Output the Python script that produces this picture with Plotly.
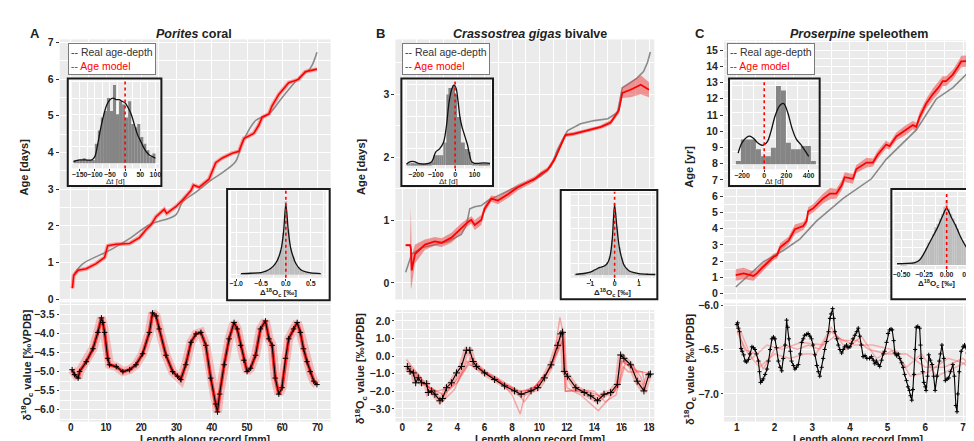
import plotly.graph_objects as go

W, H = 974, 441
FONT = "Liberation Sans, Arial, sans-serif"

# ---------------- Panel A (Porites coral) ----------------
A_real_x = [1.1, 3.5, 11.0, 17.1, 22.3, 29.8, 31.7, 35.5, 40.2, 43.0, 46.8, 48.6, 52.4, 56.2, 59.9, 64.6, 67.9, 69.8]
A_real_age = [0.70, 0.97, 1.33, 1.68, 2.03, 2.30, 2.65, 2.92, 3.27, 3.45, 3.76, 4.25, 4.87, 5.05, 5.49, 6.02, 6.29, 6.73]
A_model_x = [0.47, 0.85, 2.07, 4.4, 7.2, 9.6, 10.5, 12.9, 16.7, 18.1, 19.5, 21.4, 22.8, 24.2, 26.5, 27.2, 29.8, 31.7,
             34.1, 34.8, 36.4, 39.2, 41.1, 43.0, 45.8, 47.7, 49.1, 51.9, 53.3, 54.3, 56.2, 57.1, 59.0, 61.8, 64.6, 66.5, 69.8]
A_model_age = [0.30, 0.65, 0.79, 0.83, 0.97, 1.14, 1.46, 1.50, 1.52, 1.59, 1.68, 1.90, 2.03, 2.25, 2.45, 2.34, 2.52, 2.70,
               2.96, 3.11, 3.05, 3.27, 3.72, 3.85, 3.98, 4.03, 4.38, 4.52, 4.74, 4.96, 5.05, 5.27, 5.58, 5.90, 5.99, 6.20, 6.27]
A_d18_x = [0.4, 1.1, 2.1, 2.5, 4.4, 6.3, 7.7, 8.7, 9.1, 9.6, 10.5, 11.0, 12.9, 14.8, 16.7, 18.5, 20.4, 22.3, 23.2, 24.2,
           25.1, 27.0, 28.9, 30.3, 31.2, 32.6, 34.1, 35.5, 36.9, 38.3, 39.7, 41.1, 41.6, 42.2, 43.5, 44.9, 46.3, 47.2,
           48.2, 49.1, 50.0, 51.0, 52.4, 53.8, 55.2, 56.2, 57.1, 58.0, 59.0, 59.9, 60.9, 61.8, 63.2, 64.2, 65.1, 66.0,
           67.0, 67.9, 68.9, 69.8]
A_d18_val = [-4.95, -5.08, -5.17, -5.00, -4.74, -4.40, -3.97, -3.59, -3.71, -3.97, -4.65, -4.82, -4.87, -5.00, -4.95,
             -4.82, -4.53, -3.97, -3.46, -3.54, -3.88, -4.57, -5.00, -5.12, -5.21, -4.82, -4.23, -4.01, -3.97, -4.31,
             -5.17, -5.85, -6.06, -5.59, -4.82, -4.14, -3.71, -3.88, -4.31, -4.70, -5.00, -4.91, -4.57, -3.88, -3.67,
             -4.14, -4.31, -5.17, -5.59, -5.42, -4.65, -4.14, -3.88, -3.71, -3.97, -4.40, -4.74, -5.00, -5.25, -5.34]
A_hist_dt_x = [-165, -155, -145, -135, -125, -115, -105, -95, -85, -75, -65, -55, -45, -35, -25, -15, -5, 5, 15, 25,
               35, 45, 55, 65, 75, 85, 95]
A_hist_dt_n = [1, 1, 1, 1.5, 1, 1, 1, 6, 10, 14, 16, 20, 16, 24, 15, 19, 18, 14, 19, 12, 11, 12, 8, 6, 4, 2, 3]
A_dens_dt_x = [-170, -150, -130, -110, -100, -90, -80, -70, -60, -50, -40, -30, -20, -10, 0, 10, 20, 30, 40, 50, 60,
               70, 80, 90, 100]
A_dens_dt_y = [0.5, 1, 1, 1, 2, 6, 11, 15, 18, 19.5, 20, 19.5, 19.5, 19, 18.5, 17, 15, 12, 9, 7, 5, 3.5, 2.5, 2, 1.5]
A_hist_do_x = [-0.90, -0.85, -0.80, -0.75, -0.70, -0.65, -0.60, -0.55, -0.50, -0.45, -0.40, -0.35, -0.30, -0.25,
               -0.20, -0.15, -0.10, -0.05, 0.00, 0.05, 0.10, 0.15, 0.20, 0.25, 0.30, 0.35, 0.40, 0.45, 0.50, 0.55,
               0.60, 0.65, 0.70]
A_hist_do_n = [1, 1, 1, 1, 1, 1.5, 2, 2, 2.5, 3, 5, 6, 9, 12, 16, 25, 35, 60, 105, 65, 38, 26, 17, 11, 7, 5, 3, 3, 2,
               2, 1.5, 1, 1]
A_dens_do_x = [-0.9, -0.7, -0.5, -0.4, -0.3, -0.2, -0.15, -0.1, -0.05, 0.0, 0.05, 0.1, 0.15, 0.2, 0.3, 0.4, 0.5, 0.7]
A_dens_do_y = [1.5, 2, 3, 5, 9, 17, 24, 35, 58, 100, 62, 37, 25, 16, 7, 4, 2.5, 1.5]

# ---------------- Panel B (Crassostrea gigas) ----------------
B_real_x = [0.24, 0.68, 1.4, 2.37, 3.34, 4.3, 4.67, 4.92, 5.28, 5.76, 6.25, 6.73, 7.94, 9.15, 10.1, 10.85, 11.3, 11.8,
            12.06, 13.0, 14.0, 15.0, 15.7, 16.05, 16.4, 17.1, 17.6, 17.9, 18.1]
B_real_age = [0.17, 0.46, 0.56, 0.61, 0.66, 0.77, 0.92, 1.18, 1.21, 1.23, 1.31, 1.36, 1.49, 1.60, 1.70, 1.85, 2.11,
              2.32, 2.42, 2.53, 2.58, 2.61, 2.71, 3.10, 3.15, 3.25, 3.36, 3.51, 3.67]
B_model_x = [0.24, 0.56, 0.62, 0.68, 0.92, 1.65, 2.37, 2.86, 3.58, 4.30, 4.79, 5.03, 5.28, 5.76, 6.00, 6.49, 6.97,
             7.70, 8.43, 9.15, 9.64, 10.10, 10.60, 11.10, 11.60, 11.90, 12.50, 13.50, 14.50, 15.20, 15.80, 16.05,
             16.65, 17.40, 18.00]
B_model_age = [0.60, 0.60, 0.55, 0.20, 0.46, 0.61, 0.66, 0.64, 0.72, 0.87, 0.97, 1.00, 0.92, 1.00, 1.18, 1.34, 1.31,
               1.41, 1.52, 1.60, 1.65, 1.73, 1.80, 1.96, 2.22, 2.35, 2.37, 2.42, 2.48, 2.55, 2.74, 3.02, 3.07, 3.15,
               3.07]
B_model_halfwidth = [0.02, 0.02, 0.65, 0.25, 0.15, 0.08, 0.07, 0.07, 0.08, 0.08, 0.06, 0.06, 0.08, 0.08, 0.06, 0.05,
                     0.06, 0.06, 0.05, 0.04, 0.04, 0.04, 0.04, 0.04, 0.04, 0.03, 0.03, 0.03, 0.03, 0.04, 0.05, 0.08,
                     0.12, 0.15, 0.12]
B_d18_x = [0.36, 0.56, 0.8, 0.97, 1.16, 1.4, 1.77, 1.89, 2.13, 2.37, 2.74, 2.93, 3.22, 3.58, 3.95, 4.31, 4.67, 4.92,
           5.16, 5.4, 6.0, 6.73, 7.46, 8.18, 8.67, 9.39, 9.88, 10.36, 10.85, 11.33, 11.57, 11.69, 11.82, 12.06, 12.66,
           13.27, 13.75, 14.24, 14.72, 15.2, 15.69, 15.93, 16.17, 16.66, 17.14, 17.63, 17.99, 18.1]
B_d18_val = [-0.59, -0.87, -0.96, -1.52, -1.24, -1.52, -1.57, -2.07, -1.98, -2.17, -2.54, -2.41, -1.80, -1.52, -0.96,
             -0.59, 0.33, 0.33, -0.31, -0.59, -0.96, -1.33, -1.70, -1.98, -2.17, -1.98, -1.80, -1.24, -0.50, 0.61,
             1.26, 1.35, -0.87, -1.15, -1.80, -2.07, -2.26, -2.54, -2.17, -2.07, -1.61, 0.06, -0.13, -0.50, -1.43,
             -1.98, -1.06, -1.02]
B_ens1_x = [0.4, 1.0, 2.0, 3.0, 4.0, 4.8, 5.5, 6.5, 7.5, 8.5, 9.5, 10.5, 11.3, 11.7, 11.9, 13.5, 14.5, 15.5, 16.0, 17.0, 18.0]
B_ens1_v = [-0.6, -1.2, -1.8, -2.2, -1.5, -0.5, -0.6, -1.2, -1.6, -2.0, -1.9, -1.0, 0.2, 0.9, -2.0, -2.0, -2.3, -2.0, -0.3, -0.8, -1.0]
B_ens2_x = [0.4, 1.5, 2.5, 3.5, 4.5, 5.0, 6.0, 7.0, 8.0, 8.6, 9.0, 10.0, 11.0, 11.5, 11.8, 12.0, 13.0, 14.3, 15.0,
            15.9, 16.3, 16.8, 17.4, 17.8]
B_ens2_v = [-0.4, -1.6, -2.0, -1.8, -0.8, -0.1, -0.9, -1.3, -2.2, -3.3, -2.0, -1.6, -0.4, 2.2, 1.0, -1.8, -2.2, -3.1,
            -2.5, -1.5, -0.3, -0.5, -1.2, -2.1]
B_ens3_x = [0.3, 1.2, 2.2, 2.9, 3.8, 4.7, 5.3, 6.2, 7.2, 8.2, 8.9, 9.8, 10.8, 11.4, 11.7, 11.9, 12.8, 14.0, 14.8, 15.6,
            16.1, 16.5, 17.5, 17.7]
B_ens3_v = [-0.2, -1.1, -2.1, -2.6, -1.9, -0.3, -0.7, -1.0, -1.5, -1.9, -2.6, -1.6, -0.7, 0.6, 1.6, -2.0, -1.9, -2.0,
            -2.6, -2.2, -0.6, -0.9, -0.9, -1.6]
B_hist_dt_x = [-245, -235, -225, -215, -205, -195, -185, -175, -165, -155, -145, -135, -125, -115, -105, -95, -85, -75,
               -65, -55, -45, -35, -25, -15, -5, 5, 15, 25, 35, 45, 55, 65, 75, 85, 95, 105, 115, 125, 135, 145, 155, 165, 175]
B_hist_dt_n = [0.2, 0.3, 0.5, 0.5, 0.4, 0.3, 0.2, 0.2, 0.2, 0.2, 0.3, 0.4, 0.6, 1, 3, 3, 3, 3, 3, 7, 7, 22, 24, 24, 25,
               22, 15, 15, 7, 7, 5, 5, 4, 1, 0.5, 0.3, 0.3, 0.3, 0.3, 0.3, 0.3, 0.3, 0.3]
B_dens_dt_x = [-250, -230, -210, -190, -150, -120, -100, -80, -60, -45, -30, -15, -5, 5, 15, 25, 35, 45, 55, 65, 75,
               85, 100, 150, 180]
B_dens_dt_y = [0.3, 1, 1, 0.5, 0.3, 1, 4, 5, 7, 12, 20, 24, 25, 24, 20, 15, 12, 10, 8, 6, 3, 1, 0.5, 0.6, 0.5]
B_hist_do_x = [-1.6, -1.5, -1.4, -1.3, -1.2, -1.1, -1.0, -0.9, -0.8, -0.7, -0.6, -0.5, -0.4, -0.3, -0.2, -0.1, 0.0, 0.1,
               0.2, 0.3, 0.4, 0.5, 0.6, 0.7, 0.8, 0.9, 1.0, 1.1, 1.2, 1.3, 1.4, 1.5, 1.6]
B_hist_do_n = [0.5, 0.8, 1, 1.2, 1.5, 2, 2.5, 3.5, 5, 6, 7, 7.5, 9, 11, 16, 30, 62, 42, 24, 15, 9, 6, 4, 3, 2.5, 2, 1.5,
               1.2, 1, 1, 0.8, 0.6, 0.5]
B_dens_do_x = [-1.6, -1.2, -1.0, -0.8, -0.6, -0.4, -0.3, -0.2, -0.1, 0.0, 0.1, 0.2, 0.3, 0.4, 0.6, 0.8, 1.0, 1.4, 1.7]
B_dens_do_y = [0.5, 1.5, 2.5, 4.5, 6.5, 8, 10, 15, 30, 60, 40, 23, 14, 8, 3.5, 2, 1.2, 0.6, 0.4]

# ---------------- Panel C (Proserpine speleothem) ----------------
C_real_x = [0.97, 1.7, 2.23, 2.67, 3.11, 3.82, 4.57, 4.96, 5.76, 6.29, 6.73, 7.26, 7.43]
C_real_age = [0.4, 1.95, 2.65, 3.35, 4.46, 5.86, 7.07, 8.27, 10.08, 11.99, 12.69, 13.9, 14.3]
C_model_x = [0.97, 1.18, 1.44, 1.53, 1.70, 1.88, 1.97, 2.06, 2.15, 2.37, 2.54, 2.76, 2.85, 2.89, 3.03, 3.29, 3.47,
             3.64, 3.78, 3.86, 4.08, 4.17, 4.44, 4.61, 4.74, 4.96, 5.05, 5.23, 5.49, 5.67, 5.76, 5.85, 6.02, 6.20,
             6.38, 6.46, 6.55, 6.73, 6.90, 6.95, 7.17, 7.43]
C_model_age = [1.14, 1.24, 1.08, 1.24, 1.65, 2.05, 2.25, 2.35, 2.85, 3.25, 3.96, 4.16, 4.46, 5.06, 5.26, 5.86, 6.16,
               6.16, 6.67, 7.17, 7.07, 7.67, 8.07, 8.07, 8.57, 9.18, 9.08, 9.68, 10.08, 10.38, 10.28, 10.88, 11.69,
               12.29, 12.79, 13.09, 13.09, 13.49, 14.10, 14.30, 14.34, 14.30]
C_model_halfwidth = [0.35, 0.35, 0.3, 0.25, 0.2, 0.2, 0.2, 0.2, 0.25, 0.25, 0.3, 0.25, 0.25, 0.25, 0.25, 0.3, 0.35,
                     0.3, 0.3, 0.3, 0.3, 0.25, 0.3, 0.25, 0.25, 0.25, 0.2, 0.25, 0.3, 0.25, 0.25, 0.3, 0.3, 0.35,
                     0.35, 0.3, 0.3, 0.3, 0.3, 0.35, 0.35, 0.3]
C_d18_x = [1.0, 1.02, 1.04, 1.07, 1.11, 1.14, 1.18, 1.22, 1.26, 1.31, 1.35, 1.4, 1.44, 1.48, 1.52, 1.57, 1.6, 1.63,
           1.67, 1.7, 1.75, 1.8, 1.84, 1.88, 1.93, 1.97, 2.01, 2.05, 2.1, 2.15, 2.19, 2.23, 2.28, 2.32, 2.35, 2.38,
           2.42, 2.45, 2.5, 2.54, 2.58, 2.63, 2.68, 2.72, 2.76, 2.8, 2.85, 2.89, 2.94, 2.98, 3.02, 3.07, 3.12, 3.16,
           3.2, 3.25, 3.29, 3.33, 3.38, 3.43, 3.47, 3.5, 3.54, 3.57, 3.6, 3.65, 3.69, 3.73, 3.78, 3.82, 3.86, 3.91,
           3.95, 4.0, 4.04, 4.08, 4.13, 4.18, 4.22, 4.26, 4.3, 4.35, 4.4, 4.45, 4.52, 4.57, 4.62, 4.66, 4.7, 4.75,
           4.79, 4.84, 4.88, 4.92, 4.97, 5.01, 5.05, 5.09, 5.12, 5.16, 5.19, 5.24, 5.28, 5.32, 5.37, 5.41, 5.45,
           5.5, 5.54, 5.58, 5.61, 5.64, 5.67, 5.7, 5.73, 5.76, 5.8, 5.85, 5.87, 5.89, 5.93, 5.96, 6.0, 6.02, 6.06,
           6.09, 6.13, 6.18, 6.22, 6.26, 6.31, 6.37, 6.4, 6.44, 6.49, 6.53, 6.58, 6.62, 6.67, 6.73, 6.77, 6.81,
           6.84, 6.86, 6.9, 6.95, 7.0, 7.04, 7.08, 7.12, 7.17, 7.21, 7.26, 7.3, 7.35, 7.39, 7.43]
C_d18_val = [-6.22, -6.2, -6.26, -6.3, -6.49, -6.52, -6.56, -6.63, -6.64, -6.61, -6.55, -6.47, -6.48, -6.5, -6.55,
             -6.63, -6.75, -6.87, -6.85, -6.83, -6.78, -6.72, -6.63, -6.5, -6.38, -6.36, -6.38, -6.48, -6.63, -6.7,
             -6.74, -6.6, -6.45, -6.17, -6.25, -6.38, -6.52, -6.63, -6.68, -6.72, -6.7, -6.67, -6.55, -6.42, -6.38,
             -6.34, -6.33, -6.32, -6.35, -6.38, -6.45, -6.56, -6.68, -6.75, -6.8, -6.7, -6.6, -6.5, -6.41, -6.3,
             -6.15, -6.1, -6.04, -6.15, -6.3, -6.38, -6.45, -6.5, -6.54, -6.5, -6.47, -6.45, -6.48, -6.47, -6.43,
             -6.38, -6.34, -6.3, -6.26, -6.35, -6.45, -6.58, -6.57, -6.6, -6.6, -6.58, -6.62, -6.66, -6.63, -6.67,
             -6.69, -6.62, -6.55, -6.52, -6.42, -6.32, -6.28, -6.27, -6.28, -6.4, -6.54, -6.57, -6.55, -6.6, -6.65,
             -6.7, -6.78, -6.85, -6.92, -6.96, -7.02, -7.07, -6.95, -6.78, -6.5, -6.25, -6.24, -6.26, -6.45, -6.6,
             -6.75, -6.87, -6.92, -6.96, -6.8, -6.56, -6.62, -6.67, -6.8, -6.96, -6.8, -6.63, -6.55, -6.45, -6.6,
             -6.85, -6.83, -6.82, -6.75, -6.67, -6.8, -7.13, -7.2, -7.0, -6.75, -6.52, -6.47, -6.45, -6.48, -6.54,
             -6.7, -6.93, -6.9, -6.85, -6.75, -6.63, -6.62]
C_ens1_x = [1.0, 1.2, 1.5, 1.7, 2.0, 2.3, 2.6, 2.9, 3.2, 3.5, 3.8, 4.2, 4.5, 5.0, 5.5, 6.0, 6.5, 7.0, 7.4]
C_ens1_v = [-6.25, -6.5, -6.55, -6.72, -6.5, -6.45, -6.5, -6.45, -6.5, -6.3, -6.4, -6.4, -6.5, -6.55, -6.55, -6.7, -6.7, -6.6, -6.75]
C_ens2_x = [1.0, 1.3, 1.6, 2.0, 2.4, 2.8, 3.1, 3.5, 3.9, 4.3, 4.7, 5.2, 5.6, 6.1, 6.6, 7.0, 7.4]
C_ens2_v = [-6.3, -6.55, -6.7, -6.55, -6.6, -6.55, -6.55, -6.25, -6.5, -6.35, -6.6, -6.5, -6.8, -6.75, -6.6, -6.65, -6.8]
C_ens3_x = [1.0, 1.4, 1.8, 2.2, 2.7, 3.3, 3.6, 4.1, 4.6, 5.1, 5.5, 5.9, 6.3, 6.8, 7.3]
C_ens3_v = [-6.2, -6.6, -6.45, -6.5, -6.42, -6.45, -6.35, -6.45, -6.45, -6.5, -6.7, -6.55, -6.8, -6.7, -6.6]
C_hist_dt_x = [-232.5, -187.5, -142.5, -97.5, -52.5, -7.5, 37.5, 82.5, 127.5, 172.5, 217.5, 262.5, 307.5, 352.5, 397.5, 442.5]
C_hist_dt_n = [0.5, 3.8, 3.8, 3.8, 2.3, 1.2, 1.2, 2.5, 12, 11.3, 3.3, 2.3, 2.3, 2.8, 2.8, 0.5]
C_dens_dt_x = [-235, -200, -160, -130, -100, -60, -20, 0, 30, 60, 100, 140, 175, 210, 250, 290, 330, 370, 400]
C_dens_dt_y = [1.7, 3.3, 4.1, 4.3, 4.0, 3.3, 2.9, 3.0, 3.5, 5, 7.5, 9, 9.3, 8, 5.5, 3.8, 3, 2, 1.2]
C_hist_do_x = [-0.500, -0.475, -0.450, -0.425, -0.400, -0.375, -0.350, -0.325, -0.300, -0.275, -0.250, -0.225, -0.200,
               -0.175, -0.150, -0.125, -0.100, -0.075, -0.050, -0.025, 0.000, 0.025, 0.050, 0.075, 0.100, 0.125,
               0.150, 0.175, 0.200, 0.225, 0.250, 0.275, 0.300, 0.325, 0.350]
C_hist_do_n = [1, 1, 1, 1.5, 1.5, 2, 2, 2.5, 3, 5, 7, 10, 13, 15, 18, 22, 24, 27, 30, 34, 38, 33, 30, 27, 24, 21, 17,
               14, 12, 9, 7, 5, 4, 3, 2.5]
C_dens_do_x = [-0.55, -0.45, -0.35, -0.3, -0.25, -0.2, -0.15, -0.1, -0.05, 0.0, 0.05, 0.1, 0.15, 0.2, 0.25, 0.3, 0.35]
C_dens_do_y = [0.8, 1, 1.5, 3, 7, 12, 17, 22, 28, 33, 28, 23, 17, 12, 8, 4.5, 3]

# ---------------- Layout helpers ----------------
layout = dict(width=W, height=H, margin=dict(l=0, r=0, t=0, b=0), paper_bgcolor="white",
              plot_bgcolor="#EBEBEB", showlegend=False, font=dict(family=FONT, color="#222"),
              annotations=[], shapes=[])
traces = []


def ids(n):
    return ("x" if n == 1 else f"x{n}"), ("y" if n == 1 else f"y{n}")


def clamp(v):
    return max(0.0, min(1.0, v))


def make_axes(n, xpx, ypx, xr, yr, xdt=None, ydt=None, xminor=None, yminor=None, showx=True, showy=True,
              fsize=10.5, xfmt=None, yfmt=None, ticklen=3, hidden=False, gw=1.1, xstand=-6, xfsize=None):
    xid, yid = ids(n)
    xk = "xaxis" if n == 1 else f"xaxis{n}"
    yk = "yaxis" if n == 1 else f"yaxis{n}"
    tf = dict(family=FONT, size=fsize, color="#262626", weight="bold")
    xtf = dict(tf, size=xfsize or fsize)
    xa = dict(domain=[clamp(xpx[0] / W), clamp(xpx[1] / W)], anchor=yid, range=xr, zeroline=False,
              showline=False, fixedrange=True)
    ya = dict(domain=[clamp(1 - ypx[1] / H), clamp(1 - ypx[0] / H)], anchor=xid, range=yr, zeroline=False,
              showline=False, fixedrange=True)
    if hidden:
        xa.update(visible=False)
        ya.update(visible=False)
    else:
        xa.update(showgrid=True, gridcolor="white", gridwidth=gw, dtick=xdt, tick0=0, tickfont=xtf,
                  showticklabels=showx, ticks="outside" if showx else "", ticklen=ticklen, tickcolor="#333",
                  tickwidth=1, tickangle=0, ticklabelstandoff=xstand)
        ya.update(showgrid=True, gridcolor="white", gridwidth=gw, dtick=ydt, tick0=0, tickfont=tf,
                  showticklabels=showy, ticks="outside" if showy else "", ticklen=ticklen, tickcolor="#333",
                  tickwidth=1)
        if xfmt:
            xa["tickformat"] = xfmt
        if yfmt:
            ya["tickformat"] = yfmt
        if xminor:
            xa["minor"] = dict(showgrid=True, gridcolor="white", gridwidth=0.5, dtick=xminor, tick0=0)
        if yminor:
            ya["minor"] = dict(showgrid=True, gridcolor="white", gridwidth=0.5, dtick=yminor, tick0=0)
    layout[xk] = xa
    layout[yk] = ya
    return xid, yid


def ann(text, xp, yp, size, angle=0, color="#222", xanchor="center", yanchor="middle", **kw):
    layout["annotations"].append(dict(text=text, x=xp / W, y=1 - yp / H, xref="paper", yref="paper",
                                      showarrow=False, textangle=angle, xanchor=xanchor, yanchor=yanchor,
                                      font=dict(family=FONT, size=size, color=color), **kw))


def line(x, y, n, color, width, dash=None, opacity=1.0, **kw):
    xid, yid = ids(n)
    traces.append(go.Scatter(x=x, y=y, xaxis=xid, yaxis=yid, mode="lines", opacity=opacity,
                             line=dict(color=color, width=width, dash=dash), hoverinfo="skip", **kw))


def band(x, y, hw, n, fill):
    xid, yid = ids(n)
    lo = [a - b for a, b in zip(y, hw)]
    hi = [a + b for a, b in zip(y, hw)]
    traces.append(go.Scatter(x=x, y=lo, xaxis=xid, yaxis=yid, mode="lines", line=dict(width=0),
                             hoverinfo="skip"))
    traces.append(go.Scatter(x=x, y=hi, xaxis=xid, yaxis=yid, mode="lines", line=dict(width=0),
                             fill="tonexty", fillcolor=fill, hoverinfo="skip"))


def data_pts(x, y, n, msize=5):
    xid, yid = ids(n)
    traces.append(go.Scatter(x=x, y=y, xaxis=xid, yaxis=yid, mode="lines+markers",
                             line=dict(color="black", width=1.1),
                             marker=dict(symbol="cross-thin", size=msize, color="black",
                                         line=dict(width=1, color="black")), hoverinfo="skip"))


def inset(nbox, box, plotpx, xr, yr, xdt, xminor, ydt, hx, hn, hw, hcolor, dx, dy, xfmt=None, title="",
          title_px=None):
    xb, yb = make_axes(nbox, box[0], box[1], [0, 1], [0, 1], hidden=True)
    traces.append(go.Scatter(x=[0, 1, 1, 0, 0], y=[0, 0, 1, 1, 0], xaxis=xb, yaxis=yb, mode="lines",
                             fill="toself", fillcolor="white", line=dict(width=0), hoverinfo="skip"))
    n = nbox + 1
    xid, yid = make_axes(n, plotpx[0], plotpx[1], xr, yr, xdt=xdt, ydt=ydt, xminor=xminor, yminor=ydt / 2,
                         showx=True, showy=False, fsize=7, xfmt=xfmt, ticklen=2, gw=0.9, xstand=-3)
    traces.append(go.Bar(x=hx, y=hn, width=hw, xaxis=xid, yaxis=yid, marker=dict(color=hcolor, line=dict(width=0)),
                         hoverinfo="skip"))
    line(dx, dy, n, "#111", 1.3, line_shape="spline")
    layout["shapes"].append(dict(type="line", xref=xid, yref=f"{yid} domain", x0=0, x1=0, y0=0, y1=1,
                                 line=dict(color="#FF0000", width=1.6, dash="dot"), layer="above"))
    layout["shapes"].append(dict(type="rect", xref="paper", yref="paper", x0=box[0][0] / W, x1=box[0][1] / W,
                                 y0=1 - box[1][1] / H, y1=1 - box[1][0] / H,
                                 line=dict(color="#1a1a1a", width=2), layer="above"))
    ann(title, title_px[0], title_px[1], 8, color="#222")


# ---------------- Main panels ----------------
make_axes(1, [50, 322], [27, 294], [-3.1, 73.7], [-0.03, 7.08], xdt=10, ydt=1, xminor=5, yminor=0.5, showx=False)
make_axes(2, [50, 322], [296, 418], [-3.1, 73.7], [-6.31, -3.18], xdt=10, ydt=0.5, xminor=5, yminor=0.25,
          yfmt=".1f", xfsize=10, ticklen=2)
make_axes(3, [387, 647], [27, 293], [-0.51, 18.39], [-0.26, 3.87], xdt=2, ydt=1, xminor=1, yminor=0.5, showx=False)
make_axes(4, [387, 647], [304, 418], [-0.51, 18.39], [-3.72, 2.61], xdt=2, ydt=1, xminor=1, yminor=0.5,
          yfmt=".1f", xfsize=10, ticklen=2)
make_axes(5, [717, 974], [28, 293], [0.66, 7.45], [-0.36, 15.6], xdt=1, ydt=1, xminor=0.5, yminor=0.5, showx=False)
make_axes(6, [717, 974], [297, 418], [0.66, 7.45], [-7.31, -5.98], xdt=1, ydt=0.5, xminor=0.5, yminor=0.25,
          yfmt=".1f", xfsize=10, ticklen=2)

RED = "#FF0000"
line(A_real_x, A_real_age, 1, "#8a8a8a", 1.6, line_shape="spline")
line(A_model_x, A_model_age, 1, "rgba(255,60,60,0.45)", 4)
line(A_model_x, A_model_age, 1, RED, 1.6)
line(A_d18_x, A_d18_val, 2, "rgba(255,0,0,0.22)", 9)
line(A_d18_x, A_d18_val, 2, "rgba(255,0,0,0.75)", 3.5)
data_pts(A_d18_x, A_d18_val, 2, msize=4)
line(B_real_x, B_real_age, 3, "#8a8a8a", 1.6)
band(B_model_x, B_model_age, B_model_halfwidth, 3, "rgba(235,60,60,0.5)")
line(B_model_x, B_model_age, 3, RED, 1.8)
line(B_d18_x, B_d18_val, 4, "rgba(255,0,0,0.25)", 6)
line(B_ens1_x, B_ens1_v, 4, "rgba(255,0,0,0.35)", 1.5)
line(B_ens2_x, B_ens2_v, 4, "rgba(255,0,0,0.3)", 1.5)
line(B_ens3_x, B_ens3_v, 4, "rgba(255,0,0,0.3)", 1.5)
data_pts(B_d18_x, B_d18_val, 4)
line(C_real_x, C_real_age, 5, "#8a8a8a", 1.6)
band(C_model_x, C_model_age, C_model_halfwidth, 5, "rgba(235,60,60,0.5)")
line(C_model_x, C_model_age, 5, RED, 1.8)
line(C_ens1_x, C_ens1_v, 6, "rgba(255,60,60,0.4)", 1.5)
line(C_ens2_x, C_ens2_v, 6, "rgba(255,60,60,0.35)", 1.5)
line(C_ens3_x, C_ens3_v, 6, "rgba(255,60,60,0.35)", 1.5)
data_pts(C_d18_x, C_d18_val, 6, msize=3)

# ---------------- Insets ----------------
DARK, LIGHT = "#858585", "#BDBDBD"
DT = "Δt [d]"
DO = "<b>Δ<sup>18</sup>O<sub>c</sub> [‰]</b>"
inset(7, ([58, 152], [67, 177]), ([62, 150], [69, 159]), [-176, 113], [-1.6, 25.4], 50, 25, 10,
      A_hist_dt_x, A_hist_dt_n, 10, DARK, A_dens_dt_x, A_dens_dt_y, title=DT, title_px=(106, 172))
inset(9, ([218, 321], [180, 294]), ([222, 317], [182, 271]), [-1.1, 0.8], [-4.6, 120], 0.5, 0.25, 40,
      A_hist_do_x, A_hist_do_n, 0.05, LIGHT, A_dens_do_x, A_dens_do_y, xfmt=".1f", title=DO, title_px=(270, 286))
inset(11, ([393, 485], [67, 177]), ([397, 483], [69, 159]), [-256, 185], [-1.1, 26.4], 100, 50, 10,
      B_hist_dt_x, B_hist_dt_n, 10, DARK, B_dens_dt_x, B_dens_dt_y, title=DT, title_px=(440, 172))
inset(13, ([553, 650], [181, 293]), ([563, 648], [183, 271]), [-1.8, 1.67], [-2.5, 72], 1, 0.5, 20,
      B_hist_do_x, B_hist_do_n, 0.1, LIGHT, B_dens_do_x, B_dens_do_y, title=DO, title_px=(605, 286))
inset(15, ([722, 813], [67, 177]), ([725, 812], [70, 160]), [-290, 490], [-0.8, 12.7], 200, 100, 4,
      C_hist_dt_x, C_hist_dt_n, 45, DARK, C_dens_dt_x, C_dens_dt_y, title=DT, title_px=(768, 172))
inset(17, ([885, 980], [180, 293]), ([888, 974], [183, 262]), [-0.58, 0.37], [-2.3, 42.7], 0.25, 0.125, 10,
      C_hist_do_x, C_hist_do_n, 0.025, LIGHT, C_dens_do_x, C_dens_do_y, xfmt=".2f", title=DO, title_px=(930, 277))

# ---------------- Texts ----------------
ann("<b>A</b>", 25, 21, 13)
ann("<b><i>Porites</i> coral</b>", 185, 21, 12.5)
ann("<b>B</b>", 372, 21, 13)
ann("<b><i>Crassostrea gigas</i> bivalve</b>", 522, 21, 12.5)
ann("<b>C</b>", 693, 21, 13)
ann("<b><i>Proserpine</i> speleothem</b>", 852, 21, 12.5)

ann("<b>Age [days]</b>", 15, 157, 11, angle=-90)
ann("<b>Age [days]</b>", 353, 157, 11, angle=-90)
ann("<b>Age [yr]</b>", 682, 157, 11, angle=-90)
D18 = "<b>δ<sup>18</sup>O<sub>c</sub> value [‰VPDB]</b>"
ann(D18, 17, 360, 11, angle=-90)
ann(D18, 352, 364, 11, angle=-90)
ann(D18, 683, 364, 11, angle=-90)
XT = "<b>Length along record [mm]</b>"
ann(XT, 196, 435.5, 10.5)
ann(XT, 532, 435.5, 10.5)
ann(XT, 851, 435.5, 10.5)

LEG = "-- Real age-depth<br><span style='color:#FF0000'>-- Age model</span>"
for lx in (58, 394, 720):
    ann(LEG, lx, 31, 10.5, color="#333", xanchor="left", yanchor="top", align="left",
        bgcolor="white", bordercolor="#7a7a7a", borderwidth=1, borderpad=2)

fig = go.Figure(data=traces, layout=layout)
fig.write_html("out.html")
